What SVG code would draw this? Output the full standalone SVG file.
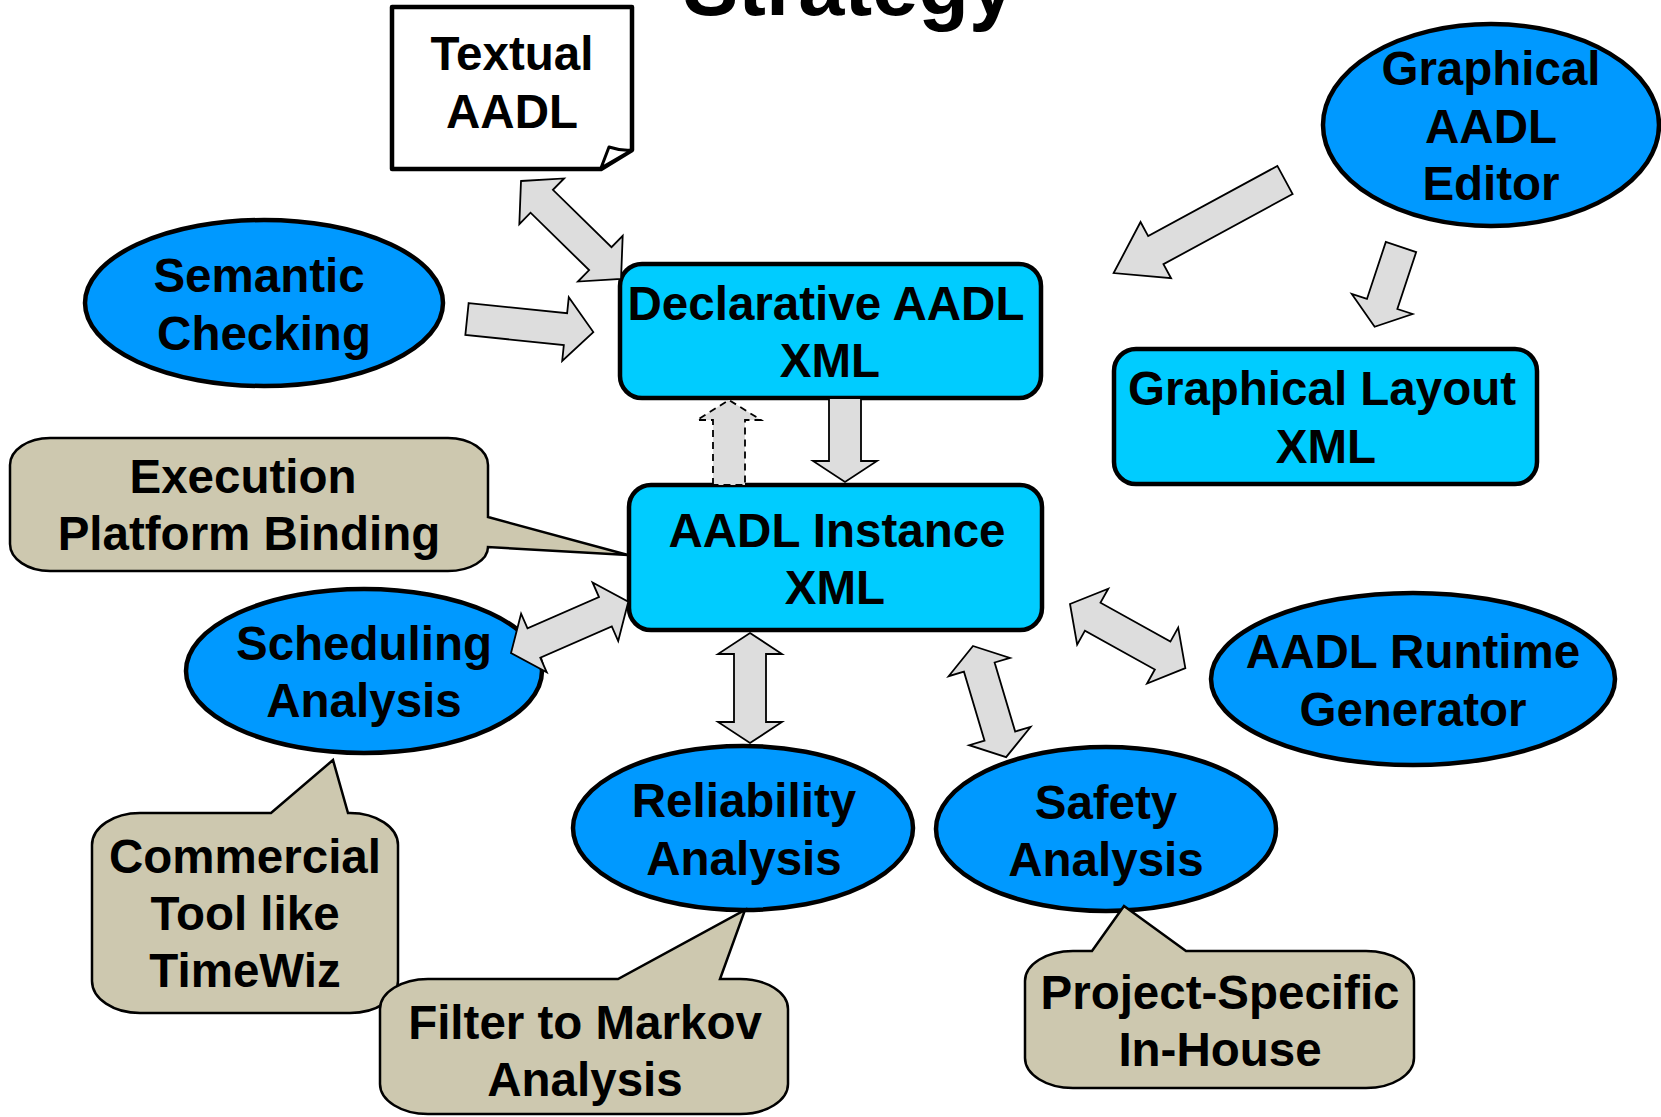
<svg xmlns="http://www.w3.org/2000/svg" width="1661" height="1117" viewBox="0 0 1661 1117">
  <style>
    text { font-family: "Liberation Sans", Arial, sans-serif; font-weight: bold; font-size: 47.5px; fill: #000; text-anchor: middle; }
    .title { font-size: 83px; }
    .tool { fill: #0099FF; stroke: #000; stroke-width: 4.5; }
    .xml { fill: #00CCFF; stroke: #000; stroke-width: 4.5; }
    .note { fill: #CDC8AF; stroke: #000; stroke-width: 2.5; stroke-linejoin: miter; }
    .doc { fill: #FFFFFF; stroke: #000; stroke-width: 4.5; stroke-linejoin: round; }
    .flow { fill: #DDDDDD; stroke: #000; stroke-width: 1.8; stroke-linejoin: miter; }
    .flow.dashed { stroke-dasharray: 7 5; }
  </style>

  <rect width="1661" height="1117" fill="#FFFFFF"/>

  <text class="title" x="849" y="15">Strategy</text>

  <g id="textual-aadl">
    <path class="doc" d="M392,7 H632 V150 L601,169 H392 Z"/>
    <path class="doc" style="stroke-width:3" d="M601,168 L609,147 Q621,151 632,150 Z"/>
    <text x="512" y="70">Textual</text>
    <text x="512" y="128">AADL</text>
  </g>

  <g id="graphical-aadl-editor">
    <ellipse class="tool" cx="1491" cy="125" rx="168" ry="101"/>
    <text x="1491" y="85">Graphical</text>
    <text x="1491" y="143">AADL</text>
    <text x="1491" y="200">Editor</text>
  </g>

  <g id="semantic-checking">
    <ellipse class="tool" cx="264" cy="303" rx="179" ry="83"/>
    <text x="259" y="292">Semantic</text>
    <text x="264" y="350">Checking</text>
  </g>

  <g id="declarative-aadl-xml">
    <rect class="xml" x="620" y="264" width="421" height="134" rx="22" ry="22"/>
    <text x="826" y="320">Declarative AADL</text>
    <text x="830" y="377">XML</text>
  </g>

  <g id="graphical-layout-xml">
    <rect class="xml" x="1114" y="349" width="423" height="135" rx="22" ry="22"/>
    <text x="1322" y="405">Graphical Layout</text>
    <text x="1326" y="463">XML</text>
  </g>

  <g id="execution-platform-binding">
    <path class="note" d="M50,438 H448 A40,27 0 0 1 488,465 V517 L628,555 L488,547 A40,24 0 0 1 448,571 H50 A40,27 0 0 1 10,544 V465 A40,27 0 0 1 50,438 Z"/>
    <text x="243" y="493">Execution</text>
    <text x="249" y="550">Platform Binding</text>
  </g>

  <g id="aadl-instance-xml">
    <rect class="xml" x="629" y="485" width="413" height="145" rx="22" ry="22"/>
    <text x="837" y="547">AADL Instance</text>
    <text x="835" y="604">XML</text>
  </g>

  <g id="scheduling-analysis">
    <ellipse class="tool" cx="364" cy="671" rx="178" ry="82"/>
    <text x="364" y="660">Scheduling</text>
    <text x="364" y="717">Analysis</text>
  </g>

  <g id="reliability-analysis">
    <ellipse class="tool" cx="743" cy="828" rx="170" ry="82"/>
    <text x="744" y="817">Reliability</text>
    <text x="744" y="875">Analysis</text>
  </g>

  <g id="safety-analysis">
    <ellipse class="tool" cx="1106" cy="829" rx="170" ry="82"/>
    <text x="1106" y="819">Safety</text>
    <text x="1106" y="876">Analysis</text>
  </g>

  <g id="aadl-runtime-generator">
    <ellipse class="tool" cx="1413" cy="679" rx="202" ry="86"/>
    <text x="1413" y="668">AADL Runtime</text>
    <text x="1413" y="726">Generator</text>
  </g>

  <g id="commercial-tool">
    <path class="note" d="M140,813 H271 L333,760 L348,813 H350 A48,32 0 0 1 398,845 V981 A48,32 0 0 1 350,1013 H140 A48,32 0 0 1 92,981 V845 A48,32 0 0 1 140,813 Z"/>
    <text x="245" y="873">Commercial</text>
    <text x="245" y="930">Tool like</text>
    <text x="245" y="987">TimeWiz</text>
  </g>

  <g id="markov-filter">
    <path class="note" d="M428,979 H618 L745,910 L720,979 H740 A48,30 0 0 1 788,1009 V1084 A48,30 0 0 1 740,1114 H428 A48,30 0 0 1 380,1084 V1009 A48,30 0 0 1 428,979 Z"/>
    <text x="585" y="1039">Filter to Markov</text>
    <text x="585" y="1096">Analysis</text>
  </g>

  <g id="project-specific">
    <path class="note" d="M1073,951 H1092 L1124,906 L1186,951 H1366 A48,30 0 0 1 1414,981 V1058 A48,30 0 0 1 1366,1088 H1073 A48,30 0 0 1 1025,1058 V981 A48,30 0 0 1 1073,951 Z"/>
    <text x="1220" y="1009">Project-Specific</text>
    <text x="1220" y="1066">In-House</text>
  </g>

  <!-- block arrows: each drawn along +x in local space, then placed -->
  <g id="connectors">
    <polygon class="flow" transform="translate(521,181) rotate(44.4)" points="0,0 29,-32 29,-16 111,-16 111,-32 140,0 111,32 111,16 29,16 29,32"/>
    <polygon class="flow" transform="translate(467,319) rotate(5.9)" points="0,-16 99,-16 99,-32 127,0 99,32 99,16 0,16"/>
    <polygon class="flow" transform="translate(1285,180) rotate(151.5)" points="0,-16 147,-16 147,-32 195,0 147,32 147,16 0,16"/>
    <polygon class="flow" transform="translate(1401,247) rotate(108.3)" points="0,-16 60,-16 60,-32 84,0 60,32 60,16 0,16"/>
    <polygon class="flow" transform="translate(845,398) rotate(90)" points="0,-16 63,-16 63,-32 84,0 63,32 63,16 0,16"/>
    <polygon class="flow dashed" transform="translate(729,485) rotate(-90)" points="0,-16 65,-16 65,-32 85,0 65,32 65,16 0,16"/>
    <polygon class="flow" transform="translate(511,653) rotate(-23.6)" points="0,0 25,-32 25,-16 103,-16 103,-32 128,0 103,32 103,16 25,16 25,32"/>
    <polygon class="flow" transform="translate(750,633) rotate(90)" points="0,0 21,-32 21,-16 89,-16 89,-32 110,0 89,32 89,16 21,16 21,32"/>
    <polygon class="flow" transform="translate(973,646) rotate(73.4)" points="0,0 22,-32 22,-16 94,-16 94,-32 116,0 94,32 94,16 22,16 22,32"/>
    <polygon class="flow" transform="translate(1070,604) rotate(29.1)" points="0,0 26,-32 26,-16 106,-16 106,-32 132,0 106,32 106,16 26,16 26,32"/>
  </g>
</svg>
